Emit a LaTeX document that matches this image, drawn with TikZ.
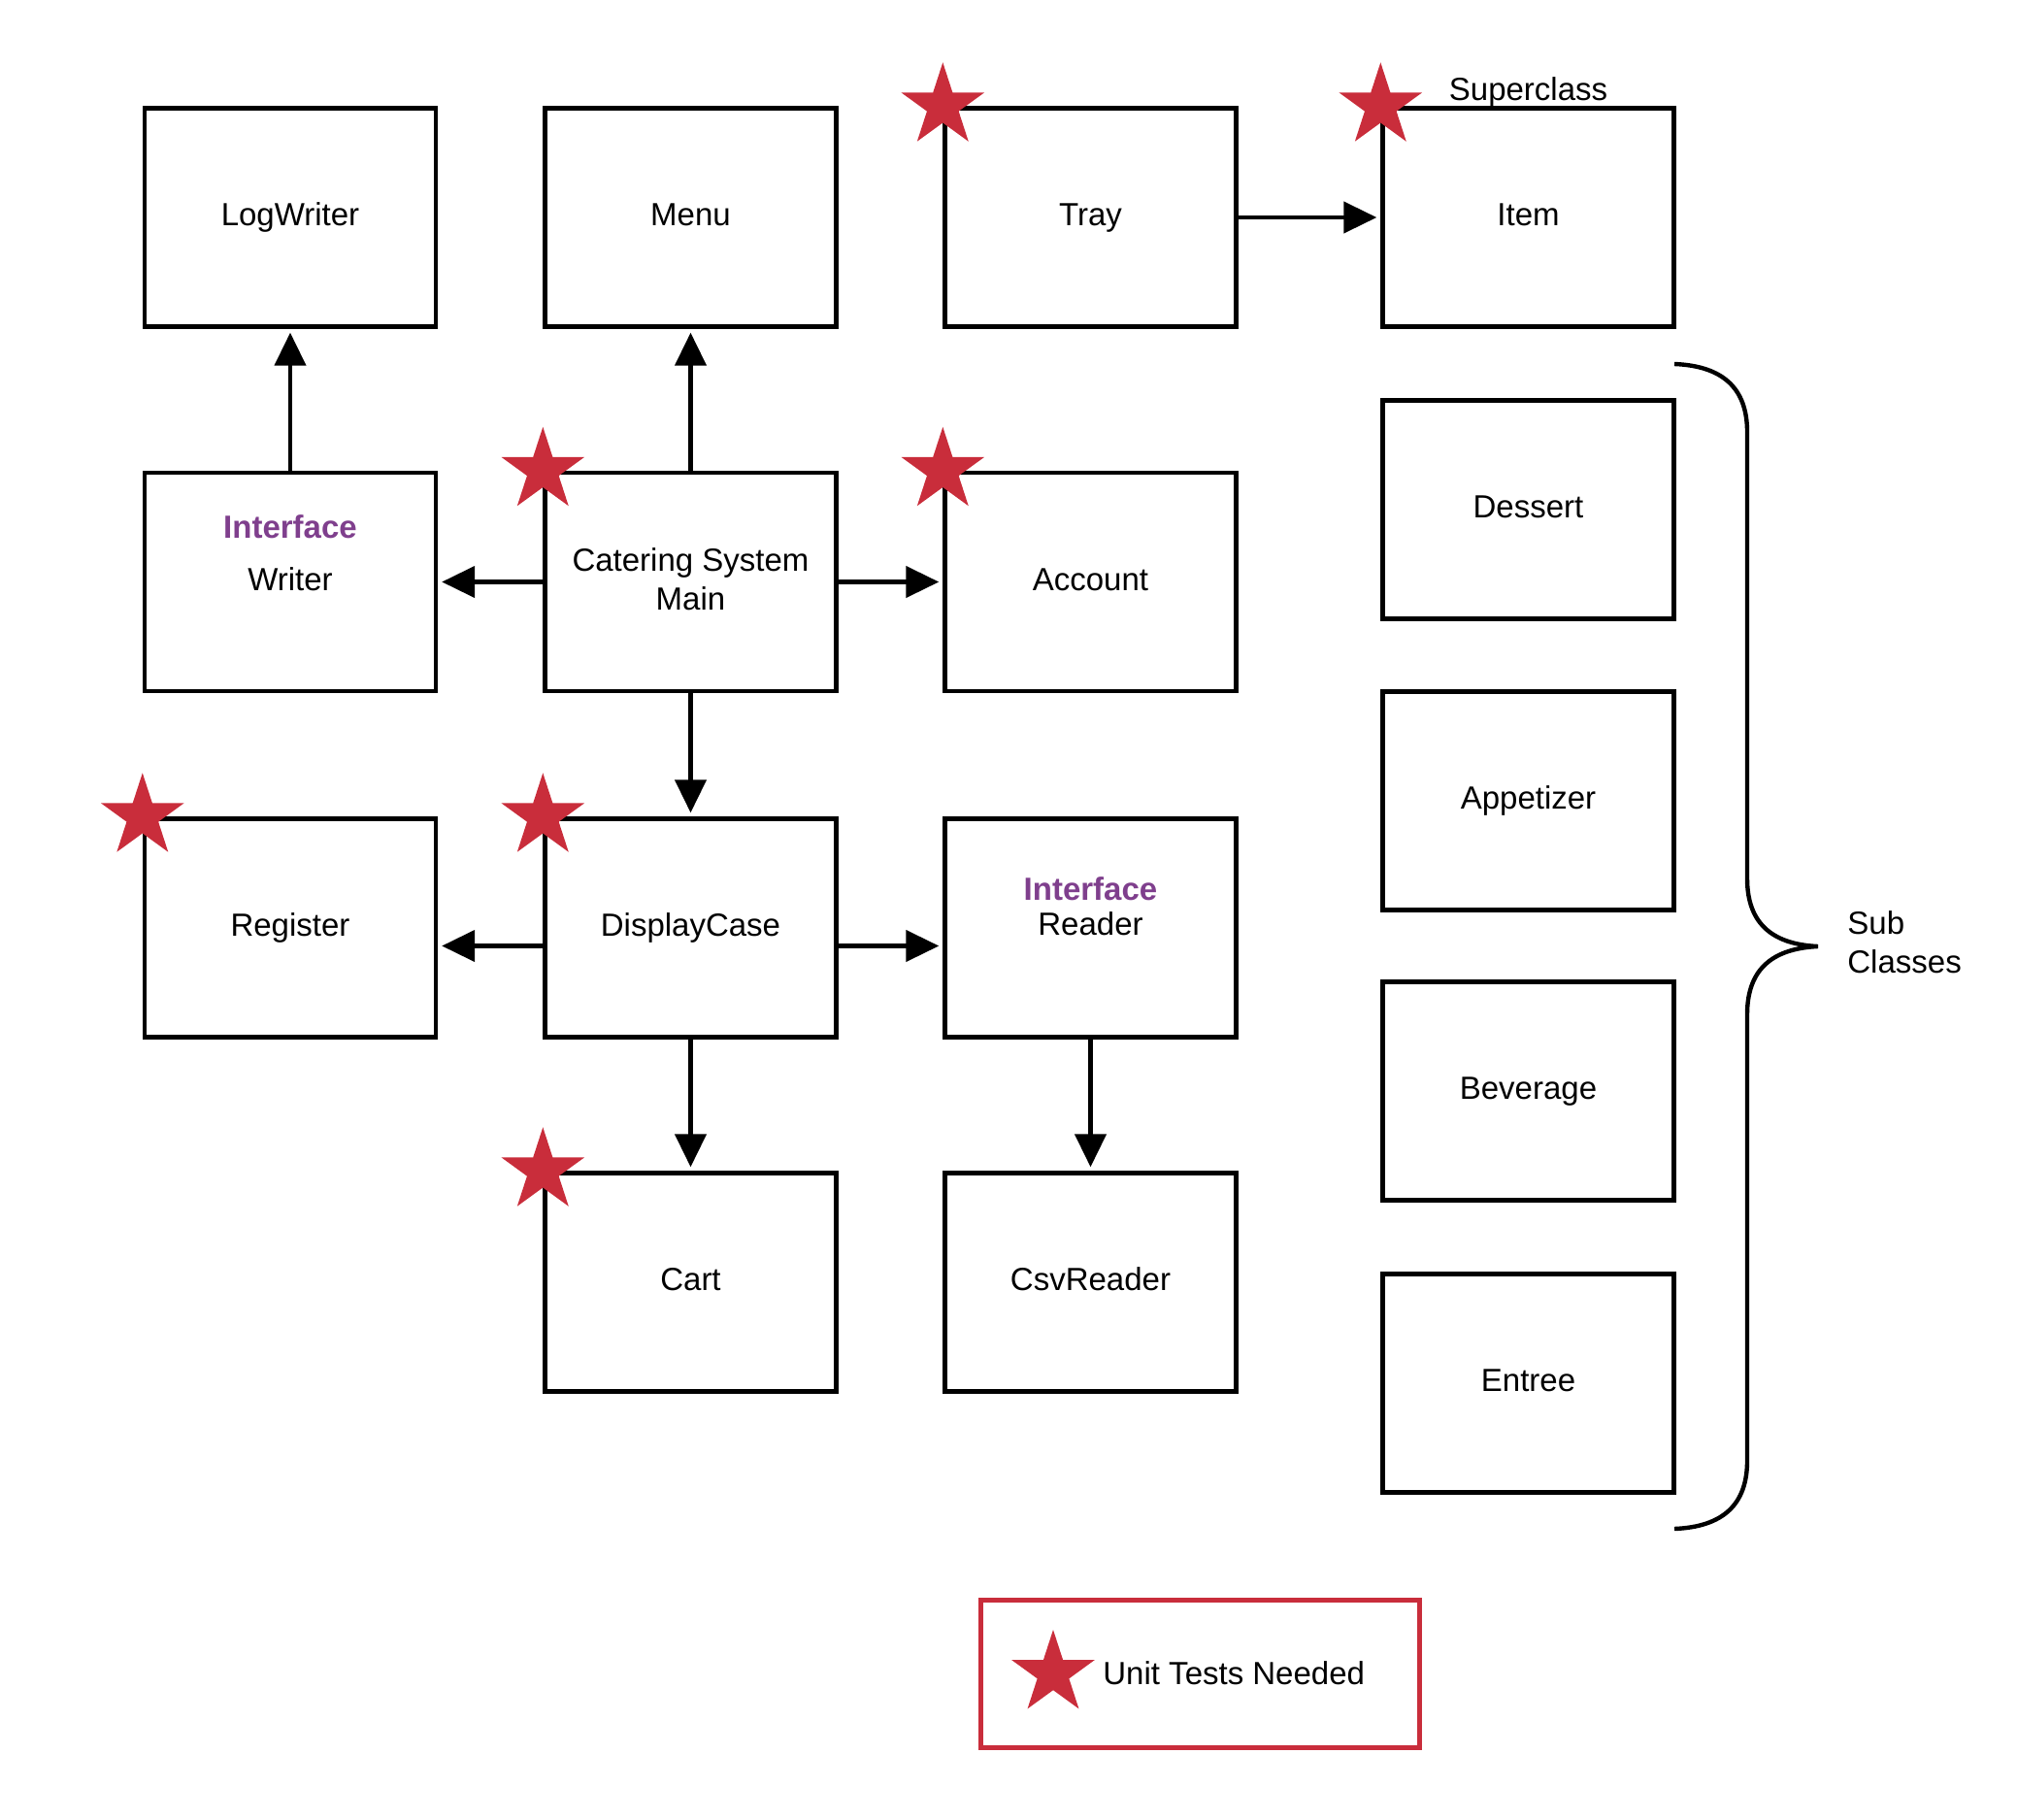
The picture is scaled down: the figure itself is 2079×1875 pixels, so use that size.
\documentclass[tikz,border=0pt]{standalone}
\usepackage{fontspec}
\setmainfont{Liberation Sans}
\usetikzlibrary{arrows.meta,shapes.geometric}
\definecolor{starred}{HTML}{C92D3B}
\definecolor{ifpurple}{HTML}{7F3F8D}
\newcommand\dfont{\fontsize{16.5pt}{20pt}\selectfont}
\begin{document}
\begin{tikzpicture}[x=0.5pt,y=-0.5pt,
  strut/.style={text height=12pt, text depth=3.5pt},
  box/.style={draw, line width=2.2pt, minimum width=150pt, minimum height=112.5pt, inner sep=0pt, align=center, font=\dfont, strut},
  lbl/.style={inner sep=0pt, align=center, font=\dfont, strut},
  plainlbl/.style={inner sep=0pt, font=\dfont},
  iface/.style={inner sep=0pt, font=\dfont\bfseries, text=ifpurple, strut},
  arr/.style={line width=2.2pt, -{Triangle[length=17pt,width=16pt]}, shorten >=2pt},
  redstar/.style={star, star points=5, star point ratio=2.618, minimum size=45pt, inner sep=0pt, fill=starred, draw=none}]
\useasboundingbox (0,0) rectangle (2079,1875);
% boxes
\node[box] (logwriter) at (299,224) {LogWriter};
\node[box] (menu) at (711.5,224) {Menu};
\node[box] (tray) at (1123.5,224) {Tray};
\node[box] (item) at (1574.5,224) {Item};
\node[box] (writer) at (299,599.5) {Writer};
\node[box] (main) at (711.5,599.5) {};
\node[lbl] (main-l1) at (711.5,580) {Catering System};
\node[lbl] (main-l2) at (711.5,620) {Main};
\node[box] (account) at (1123.5,599.5) {Account};
\node[box] (register) at (299,956) {Register};
\node[box] (dc) at (711.5,956) {DisplayCase};
\node[box] (reader) at (1123.5,956) {};
\node[lbl] (reader-l) at (1123.5,955) {Reader};
\node[box] (cart) at (711.5,1321) {Cart};
\node[box] (csv) at (1123.5,1321) {CsvReader};
\node[box] (dessert) at (1574.5,525) {};
\node[lbl] (dessert-l) at (1574.5,525) {Dessert};
\node[box] (appetizer) at (1574.5,825) {Appetizer};
\node[box] (beverage) at (1574.5,1124) {Beverage};
\node[box] (entree) at (1574.5,1425) {Entree};
% interface labels
\node[iface] (if-writer) at (299,546) {Interface};
\node[iface] (if-reader) at (1123.5,919) {Interface};
% other labels
\node[lbl] (superclass) at (1574.5,94.5) {Superclass};
\node[plainlbl, anchor=west, align=left] (subclasses) at (1903,971) {Sub\\Classes};
% connectors
\draw[arr] (writer.north) -- (logwriter.south);
\draw[arr] (main.north) -- (menu.south);
\draw[arr] (main.west) -- (writer.east);
\draw[arr] (main.east) -- (account.west);
\draw[arr] (main.south) -- (dc.north);
\draw[arr] (tray.east) -- (item.west);
\draw[arr] ([yshift=-9.25pt]dc.west) -- ([yshift=-9.25pt]register.east);
\draw[arr] ([yshift=-9.25pt]dc.east) -- ([yshift=-9.25pt]reader.west);
\draw[arr] (dc.south) -- (cart.north);
\draw[arr] (reader.south) -- (csv.north);
% brace
\coordinate (btop) at (1725,375);
\coordinate (btip) at (1873,975);
\coordinate (bbot) at (1725,1575);
\draw[line width=2.2pt] (btop) .. controls (1775,377) and (1800,400) .. (1800,445)
  -- (1800,905) .. controls (1800,955) and (1830,973) .. (btip)
  .. controls (1830,977) and (1800,995) .. (1800,1045)
  -- (1800,1505) .. controls (1800,1550) and (1775,1573) .. (bbot);
% stars
\node[redstar] (st-tray) at (tray.north west) {};
\node[redstar] (st-item) at (item.north west) {};
\node[redstar] (st-main) at (main.north west) {};
\node[redstar] (st-account) at (account.north west) {};
\node[redstar] (st-register) at (register.north west) {};
\node[redstar] (st-dc) at (dc.north west) {};
\node[redstar] (st-cart) at (cart.north west) {};
% legend
\node[draw=starred, line width=2.5pt, minimum width=226pt, minimum height=76pt, inner sep=0pt] (legend) at (1236,1724) {};
\node[redstar] (st-legend) at (1085,1724) {};
\node[lbl, anchor=west] (legendtext) at (1136,1727) {Unit Tests Needed};
\end{tikzpicture}
\end{document}
